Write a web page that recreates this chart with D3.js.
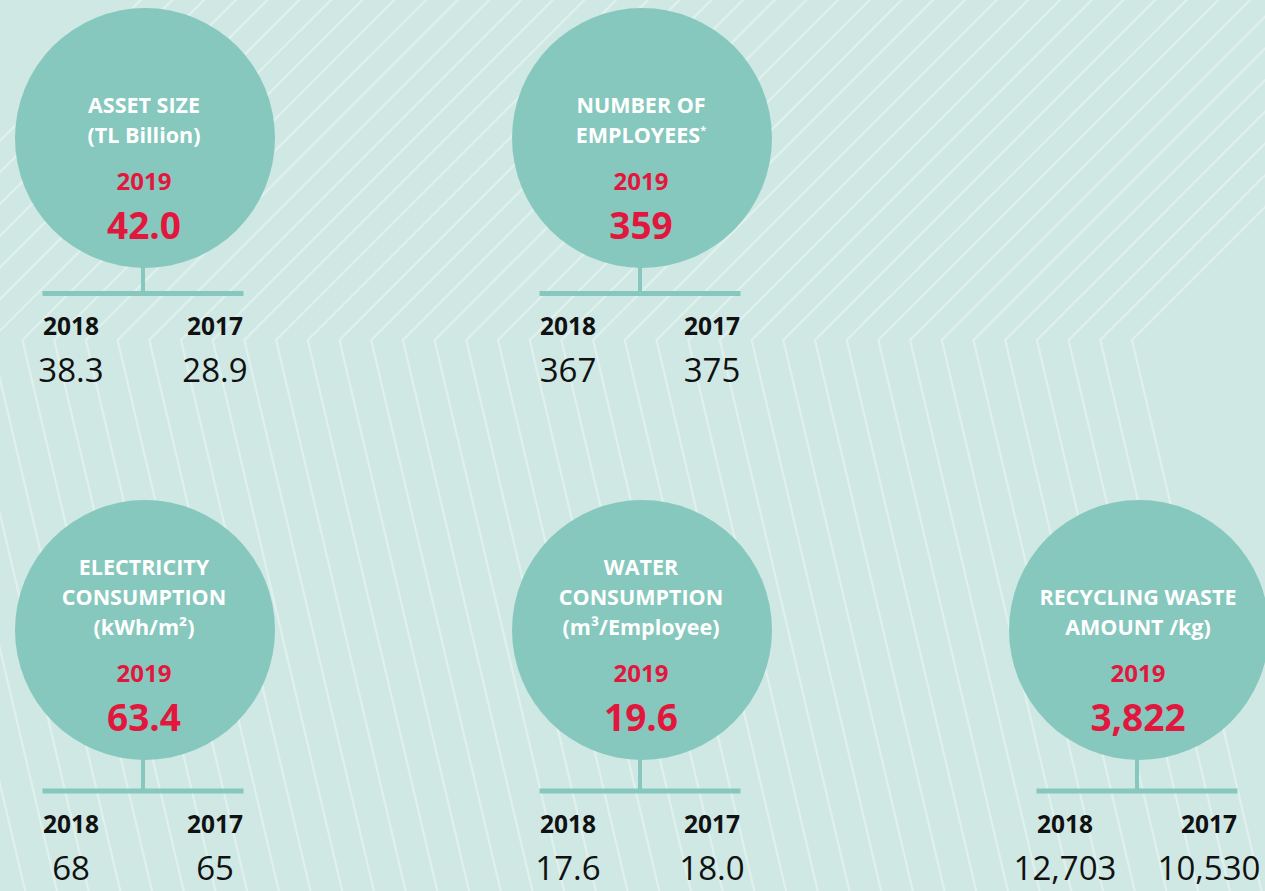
<!DOCTYPE html>
<html>
<head>
<meta charset="utf-8">
<script src="https://cdn.jsdelivr.net/npm/d3@7"></script>
<style>
  html, body { margin: 0; padding: 0; background: #cfe8e4; }
  svg { display: block; }
</style>
</head>
<body>
<svg id="chart" width="1265" height="891"></svg>
<script>
// ---- data ----
const titles = [
  ["ASSET SIZE", "(TL Billion)"],
  ["NUMBER OF", "EMPLOYEES*"],
  ["ELECTRICITY", "CONSUMPTION", "(kWh/m²)"],
  ["WATER", "CONSUMPTION", "(m³/Employee)"],
  ["RECYCLING WASTE", "AMOUNT /kg)"]
];
const years = ["2019", "2018", "2017"];
const values2019 = [42.0, 359, 63.4, 19.6, 3822];
const values2018 = [38.3, 367, 68, 17.6, 12703];
const values2017 = [28.9, 375, 65, 18.0, 10530];
const formats2019 = [".1f", ",", ".1f", ".1f", ","];
const formatsPrev = [".1f", ",", ".0f", ".1f", ","];
const gridCol = [0, 1, 0, 1, 2];
const gridRow = [0, 0, 1, 1, 1];

// ---- layout ----
const W = 1265, H = 891;
const svg = d3.select("#chart");
const bg = "#cfe8e4", lineCol = "#e0f0ed", circ = "#86c8bd", red = "#e2173d";
const font = "'Open Sans', 'Noto Sans', sans-serif";

svg.append("rect").attr("width", W).attr("height", H).attr("fill", bg);

// background chevron lines
const bendY = 340, spacing = 31.7, lastBend = 1132;
const bends = d3.range(0, 60).map(k => lastBend - spacing * k).filter(x => x > -220);
const line = d3.line();
svg.append("g").selectAll("path").data(bends).join("path")
  .attr("d", xb => line([[xb + 420, bendY - 420], [xb, bendY], [xb + 0.235 * (H + 40 - bendY), H + 40]]))
  .attr("fill", "none").attr("stroke", lineCol).attr("stroke-width", 2.2);

const x = d3.scaleLinear().domain([0, 2]).range([143, 1137]);
const cy = d3.scaleLinear().domain([0, 1]).range([138, 630]);
const barY = d3.scaleLinear().domain([0, 1]).range([293.5, 791]);
const R = 130, halfBar = 100.5;

const panels = titles.map((t, i) => ({
  t, i, cx: x(gridCol[i]), cy: cy(gridRow[i]), by: barY(gridRow[i]),
  v19: d3.format(formats2019[i])(values2019[i]),
  v18: d3.format(formatsPrev[i])(values2018[i]),
  v17: d3.format(formatsPrev[i])(values2017[i])
}));

const g = svg.append("g").selectAll("g").data(panels).join("g");

// stem
g.append("rect")
  .attr("x", d => d.cx - 2).attr("y", d => d.cy + R - 4)
  .attr("width", 4).attr("height", d => d.by - (d.cy + R - 4))
  .attr("fill", circ);
// bar
g.append("rect")
  .attr("x", d => d.cx - halfBar).attr("y", d => d.by - 2.5)
  .attr("width", halfBar * 2).attr("height", 5)
  .attr("fill", circ);
// circle
g.append("circle")
  .attr("cx", d => d.cx + 2).attr("cy", d => d.cy).attr("r", R)
  .attr("fill", circ);

// title lines
g.each(function(d) {
  const n = d.t.length;
  d.t.forEach((s, j) => {
    const ty = d.cy + 5 - (n - 1 - j) * 30;
    const txt = d3.select(this).append("text")
      .attr("x", d.cx + 1).attr("y", ty)
      .attr("text-anchor", "middle")
      .attr("font-family", font).attr("font-weight", 700)
      .attr("font-size", 21.5).attr("fill", "#ffffff");
    if (s.endsWith("*")) {
      txt.append("tspan").text(s.slice(0, -1));
      txt.append("tspan").text("*").attr("font-size", 11).attr("dy", -9);
    } else {
      txt.text(s);
    }
  });
});

// 2019 label + value
g.append("text")
  .attr("x", d => d.cx + 1).attr("y", d => d.cy + 52)
  .attr("text-anchor", "middle")
  .attr("font-family", font).attr("font-weight", 700)
  .attr("font-size", 24).attr("fill", red)
  .text(years[0]);
g.append("text")
  .attr("x", d => d.cx + 1).attr("y", d => d.cy + 101)
  .attr("text-anchor", "middle")
  .attr("font-family", font).attr("font-weight", 700)
  .attr("font-size", 37).attr("fill", red)
  .text(d => d.v19);

// year labels below
const sub = [
  { year: years[1], key: "v18", dx: -72 },
  { year: years[2], key: "v17", dx: 72 }
];
sub.forEach(s => {
  g.append("text")
    .attr("x", d => d.cx + s.dx).attr("y", d => d.by + 41.5)
    .attr("text-anchor", "middle")
    .attr("font-family", font).attr("font-weight", 700)
    .attr("font-size", 24.5).attr("fill", "#111")
    .text(s.year);
  g.append("text")
    .attr("x", d => d.cx + s.dx).attr("y", d => d.by + 88.5)
    .attr("text-anchor", "middle")
    .attr("font-family", font).attr("font-weight", 400)
    .attr("font-size", 33).attr("fill", "#111")
    .text(d => d[s.key]);
});
</script>
</body>
</html>
